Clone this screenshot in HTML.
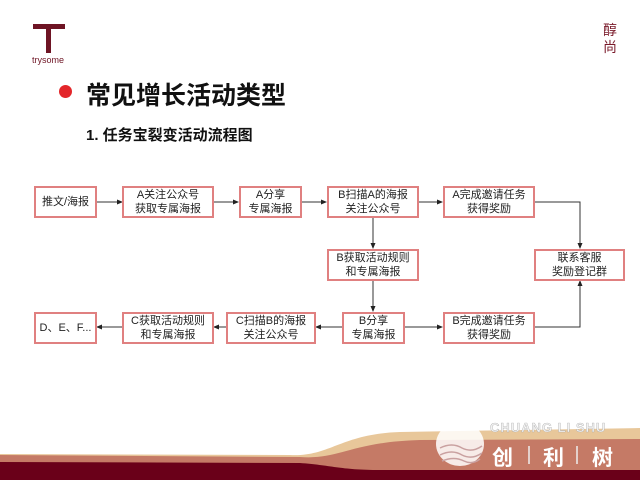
<!DOCTYPE html>
<html><head><meta charset="utf-8"><style>
body{margin:0;width:640px;height:480px;background:#fff;position:relative;overflow:hidden;font-family:"Liberation Sans","Noto Sans CJK SC",sans-serif;}
.b{position:absolute;border:2px solid #e08080;box-sizing:border-box;background:#fff;display:flex;align-items:center;justify-content:center;text-align:center;font-size:11px;line-height:14px;color:#222;}
.abs{position:absolute;}
</style></head><body>
<div class="abs" style="left:33px;top:24px;width:32px;height:5px;background:#6e1424;"></div>
<div class="abs" style="left:46px;top:27px;width:5px;height:26px;background:#6e1424;"></div>
<div class="abs" style="left:32px;top:55px;font-size:9px;color:#6e1424;">trysome</div>
<div class="abs" style="left:603px;top:22px;font-size:14px;line-height:17px;color:#7a1a2a;width:16px;">醇<br>尚</div>
<div class="abs" style="left:59px;top:85px;width:13px;height:13px;border-radius:50%;background:#e3262a;"></div>
<div class="abs" style="left:86px;top:76px;font-size:25px;font-weight:bold;color:#111;">常见增长活动类型</div>
<div class="abs" style="left:86px;top:124px;font-size:15px;font-weight:bold;color:#111;">1. 任务宝裂变活动流程图</div>
<svg class="abs" style="left:0;top:0" width="640" height="480">
<defs><marker id="a" markerWidth="6" markerHeight="6" refX="5" refY="3" orient="auto"><path d="M0,0.5 L6,3 L0,5.5z" fill="#222"/></marker></defs>
<g stroke="#333" stroke-width="1" fill="none" marker-end="url(#a)">
<line x1="96" y1="202" x2="122" y2="202"/>
<line x1="213" y1="202" x2="238" y2="202"/>
<line x1="301" y1="202" x2="326" y2="202"/>
<line x1="418" y1="202" x2="442" y2="202"/>
<polyline points="535,202 580,202 580,248"/>
<line x1="373" y1="217" x2="373" y2="248"/>
<line x1="373" y1="280" x2="373" y2="311"/>
<polyline points="535,327 580,327 580,281"/>
<line x1="405" y1="327" x2="442" y2="327"/>
<line x1="342" y1="327" x2="316" y2="327"/>
<line x1="226" y1="327" x2="214" y2="327"/>
<line x1="123" y1="327" x2="97" y2="327"/>
</g>
<path d="M0,454 L290,455 C330,457 340,434 400,432 L640,428 L640,480 L0,480z" fill="#e8c79a"/>
<path d="M0,455 L300,457 C340,460 350,442 420,440 L640,439 L640,480 L0,480z" fill="#c57a66"/>
<path d="M0,462 L300,463 C330,465 340,470 380,470 L640,470 L640,480 L0,480z" fill="#6a0019"/>
<ellipse cx="460" cy="444" rx="24" ry="22" fill="#fff" opacity="0.85"/>
<path d="M440,448 q12,-6 22,0 q10,5 20,-2 M440,455 q12,-6 22,0 q10,5 20,-2 M442,461 q12,-5 22,0 q8,4 16,-2" stroke="#c9a0a0" stroke-width="1.5" fill="none"/>
<text x="490" y="432" font-family="Liberation Sans" font-weight="bold" font-size="13" fill="#f2f2f2" stroke="#999" stroke-width="0.3" letter-spacing="1">CHUANG LI SHU</text>
<text x="492" y="465" font-family="Noto Sans CJK SC" font-weight="bold" font-size="21" fill="#fff">创</text>
<text x="543" y="465" font-family="Noto Sans CJK SC" font-weight="bold" font-size="21" fill="#fff">利</text>
<text x="592" y="465" font-family="Noto Sans CJK SC" font-weight="bold" font-size="21" fill="#fff">树</text>
<line x1="529" y1="446" x2="529" y2="464" stroke="#eee" stroke-width="1.5"/>
<line x1="577" y1="446" x2="577" y2="464" stroke="#eee" stroke-width="1.5"/>
</svg>
<div class="b" style="left:34px;top:186px;width:63px;height:32px;">推文/海报</div>
<div class="b" style="left:122px;top:186px;width:92px;height:32px;">A关注公众号<br>获取专属海报</div>
<div class="b" style="left:239px;top:186px;width:63px;height:32px;">A分享<br>专属海报</div>
<div class="b" style="left:327px;top:186px;width:92px;height:32px;">B扫描A的海报<br>关注公众号</div>
<div class="b" style="left:443px;top:186px;width:92px;height:32px;">A完成邀请任务<br>获得奖励</div>
<div class="b" style="left:327px;top:249px;width:92px;height:32px;">B获取活动规则<br>和专属海报</div>
<div class="b" style="left:534px;top:249px;width:91px;height:32px;">联系客服<br>奖励登记群</div>
<div class="b" style="left:34px;top:312px;width:63px;height:32px;">D、E、F...</div>
<div class="b" style="left:122px;top:312px;width:92px;height:32px;">C获取活动规则<br>和专属海报</div>
<div class="b" style="left:226px;top:312px;width:90px;height:32px;">C扫描B的海报<br>关注公众号</div>
<div class="b" style="left:342px;top:312px;width:63px;height:32px;">B分享<br>专属海报</div>
<div class="b" style="left:443px;top:312px;width:92px;height:32px;">B完成邀请任务<br>获得奖励</div>
</body></html>
